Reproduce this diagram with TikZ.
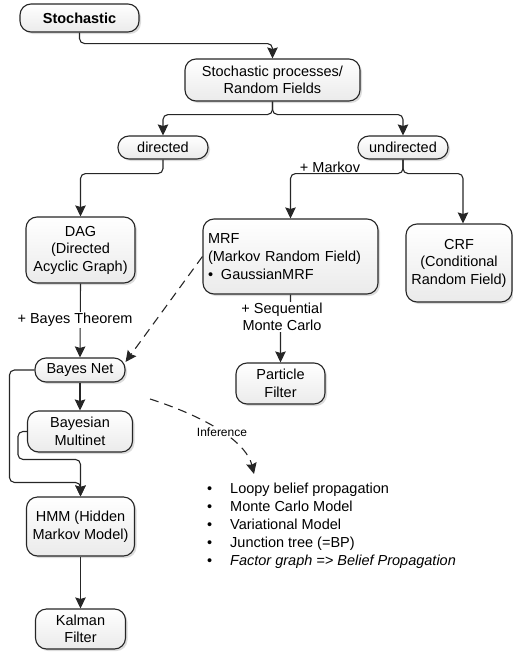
\documentclass[tikz,border=0pt]{standalone}
\usepackage{fontspec}
\setmainfont{Liberation Sans}
\usetikzlibrary{arrows.meta,shadows,calc}
\begin{document}
\begin{tikzpicture}[x=1pt,y=-1pt,
  box/.style={draw=black!85, line width=1.1pt, rounded corners=11pt,
    top color=white, bottom color=gray!16,
    drop shadow={shadow xshift=2pt, shadow yshift=-2pt, fill=gray!60, opacity=0.45},
    inner sep=0pt, align=center,
    font=\fontsize{14.5}{17.5}\selectfont},
  arr/.style={draw=black!85, line width=1.1pt, rounded corners=5pt,
    -{Stealth[length=11pt,width=10.5pt,inset=1.5pt]}},
  lbl/.style={fill=white, inner sep=1pt, align=center,
    font=\fontsize{14.5}{17.5}\selectfont},
  small/.style={fill=white, inner sep=1pt, font=\fontsize{12}{14}\selectfont}]

\useasboundingbox (0,0) rectangle (513,653);

% nodes
\node[box, minimum width=119pt, minimum height=28pt, font=\fontsize{14.5}{17.5}\selectfont\bfseries]
  (st) at (79.5,18) {Stochastic};
\node[box, minimum width=175pt, minimum height=42pt] (sp) at (272.5,80)
  {Stochastic processes/\\Random Fields};
\node[box, minimum width=90pt, minimum height=23pt] (dir) at (163,147.5) {directed};
\node[box, minimum width=90pt, minimum height=23pt] (und) at (403,147.5) {undirected};
\node[box, minimum width=109pt, minimum height=66pt] (dag) at (80.5,250)
  {DAG\\(Directed\\Acyclic Graph)};
\node[box, minimum width=175pt, minimum height=75pt, text width=165pt, align=left,
  font=\fontsize{14.5}{18}\selectfont] (mrf) at (290.5,256.5)
  {MRF\\(Markov Random Field)\\\makebox[13pt][l]{\textbullet}GaussianMRF};
\node[box, minimum width=106pt, minimum height=78pt] (crf) at (459,263)
  {CRF\\(Conditional\\Random Field)};
\node[box, minimum width=90pt, minimum height=24pt] (bn) at (80,370) {Bayes Net};
\node[box, minimum width=89pt, minimum height=41pt] (pf) at (280.5,383.5)
  {Particle\\Filter};
\node[box, minimum width=105pt, minimum height=41pt] (bm) at (80,431.5)
  {Bayesian\\Multinet};
\node[box, minimum width=108pt, minimum height=59pt] (hmm) at (80.5,526.5)
  {HMM (Hidden\\Markov Model)};
\node[box, minimum width=90pt, minimum height=40pt] (km) at (80.5,629)
  {Kalman\\Filter};

% connectors
\draw[arr] (st.south) -- ++(0,11) -| (sp.north);
\draw[arr] (sp.south) -- ++(0,13) -| (dir.north);
\draw[arr] (sp.south) -- ++(0,13) -| (und.north);
\draw[arr] (dir.south) -- ++(0,14) -| (dag.north);
\draw[arr] (und.south) -- ++(0,14) -| (mrf.north);
\draw[arr] (und.south) -- ++(0,14) -| ($(crf.north)+(4,0)$);
\node[lbl] (mk) at (330,167) {+ Markov};

\draw[arr] (dag.south) -- (bn.north);
\node[lbl] (bt) at (75,320) {+ Bayes Theorem};

\coordinate (seqc) at (282,317);
\draw[arr] (mrf.south) |- (seqc) -| (pf.north);
\node[lbl] (seq) at (seqc) {+ Sequential\\Monte Carlo};

\draw[arr, dashed, dash pattern=on 9pt off 6pt, rounded corners=0pt]
  (mrf.west) -- (bn.10);

\draw[arr] (bn.west) -- ++(-25,0) |- ($(hmm.north)+(0,-14)$) -- (hmm.north);
\draw[arr] (bn.south) -- (bm.north);
\draw[arr] (bm.west) -- ++(-9,0) |- ($(hmm.north)+(0,-37)$) -- (hmm.north);
\draw[arr] (hmm.south) -- (km.north);

% inference
\coordinate (inf0) at (150,399);
\coordinate (inf1) at (254,474);
\draw[arr, dashed, dash pattern=on 9pt off 6pt, rounded corners=0pt]
  (inf0) .. controls (215,420) and (247,445) .. (inf1);
\node[small] (inf) at (222,432) {Inference};

\node[anchor=west, inner sep=0pt, align=left,
  font=\fontsize{14.5}{18}\selectfont] (list) at (207,526)
  {\makebox[23pt][l]{\textbullet}Loopy belief propagation\\
   \makebox[23pt][l]{\textbullet}Monte Carlo Model\\
   \makebox[23pt][l]{\textbullet}Variational Model\\
   \makebox[23pt][l]{\textbullet}Junction tree (=BP)\\
   \makebox[23pt][l]{\textbullet}\textit{Factor graph => Belief Propagation}};
\end{tikzpicture}
\end{document}
